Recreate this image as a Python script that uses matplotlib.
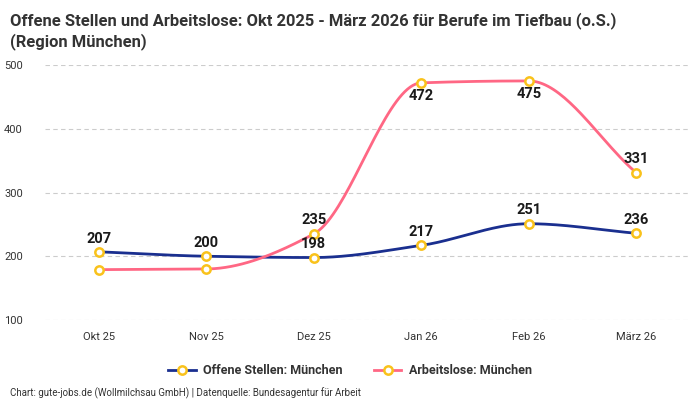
import numpy as np
import matplotlib
matplotlib.use("Agg")
import matplotlib.pyplot as plt
from matplotlib.lines import Line2D

months = ["Okt 25", "Nov 25", "Dez 25", "Jan 26", "Feb 26", "März 26"]
offene = [207, 200, 198, 217, 251, 236]
arbeitslose = [179, 180, 235, 472, 475, 331]
offene_show = [True, True, True, True, True, True]
arbeitslose_show = [False, False, True, True, True, True]
arbeitslose_below = [False, False, False, True, True, False]
yticks = [100, 200, 300, 400, 500]

BLUE = "#1a2f8f"
PINK = "#ff6784"
YELLOW = "#f9c21b"

plt.rcParams['font.family'] = ['Roboto', 'DejaVu Sans']


def monotone(x, y, n=40):
    x = np.asarray(x, float); y = np.asarray(y, float)
    h = np.diff(x); d = np.diff(y) / h
    m = np.zeros_like(y)
    m[0] = d[0]; m[-1] = d[-1]
    for i in range(1, len(y) - 1):
        if d[i - 1] * d[i] <= 0:
            m[i] = 0
        else:
            w1 = 2 * h[i] + h[i - 1]; w2 = h[i] + 2 * h[i - 1]
            m[i] = (w1 + w2) / (w1 / d[i - 1] + w2 / d[i])
    xs, ys = [], []
    for i in range(len(x) - 1):
        t = np.linspace(0, 1, n)
        h00 = 2*t**3 - 3*t**2 + 1; h10 = t**3 - 2*t**2 + t
        h01 = -2*t**3 + 3*t**2; h11 = t**3 - t**2
        xs.append(x[i] + t * h[i])
        ys.append(h00*y[i] + h10*h[i]*m[i] + h01*y[i+1] + h11*h[i]*m[i+1])
    return np.concatenate(xs), np.concatenate(ys)


fig = plt.figure(figsize=(7, 4), dpi=100)
ax = fig.add_axes([45/700, 1-320/400, 645/700, (320-65)/400])
x = np.arange(len(months))

for vals, col in [(offene, BLUE), (arbeitslose, PINK)]:
    sx, sy = monotone(x, vals)
    ax.plot(sx, sy, color=col, lw=2, zorder=3, clip_on=False)
    ax.plot(x, vals, 'o', ms=6, mfc='white', mec=YELLOW, mew=1.8, zorder=4, clip_on=False)

for xi, v, s in zip(x, offene, offene_show):
    if s:
        ax.annotate(str(v), (xi, v), xytext=(0, 4.5), textcoords='offset points',
                    ha='center', va='bottom', fontsize=10.5, fontweight='bold', color='#1a1a1a', zorder=6)
for xi, v, s, b in zip(x, arbeitslose, arbeitslose_show, arbeitslose_below):
    if s:
        ax.annotate(str(v), (xi, v), xytext=(0, -4.5 if b else 5), textcoords='offset points',
                    ha='center', va='top' if b else 'bottom', fontsize=10.5, fontweight='bold', color='#1a1a1a', zorder=6)

ax.set_xlim(-0.5, 5.5)
ax.set_ylim(100, 500)
ax.set_yticks(yticks)
ax.set_xticks(x)
ax.set_xticklabels(months)
ax.tick_params(length=0, labelsize=8, colors='#333333')
ax.tick_params(axis='y', pad=16)
ax.tick_params(axis='x', pad=9)
for lab in ax.get_yticklabels():
    lab.set_horizontalalignment('right')
ax.grid(axis='y', color='#cccccc', ls=(0, (4, 3)), lw=0.8)
for sp in ax.spines.values():
    sp.set_visible(False)

fig.text(10/700, 1-12/400, "Offene Stellen und Arbeitslose: Okt 2025 - März 2026 für Berufe im Tiefbau (o.S.)\n(Region München)",
         ha='left', va='top', fontsize=11.9, fontweight='bold', color='#333333', linespacing=1.3)

handles = [Line2D([0], [0], color=BLUE, lw=2, marker='o', ms=6, mfc='white', mec=YELLOW, mew=1.8),
           Line2D([0], [0], color=PINK, lw=2, marker='o', ms=6, mfc='white', mec=YELLOW, mew=1.8)]
leg = fig.legend(handles, ["Offene Stellen: München", "Arbeitslose: München"], loc='center',
                 bbox_to_anchor=(350/700, 1-371/400), ncol=2, frameon=False,
                 prop={'weight': 'bold', 'size': 9},
                 handlelength=2.2, columnspacing=2.5, handletextpad=0.6)
for t in leg.get_texts():
    t.set_color('#333333')

fig.text(10/700, 1-393/400, "Chart: gute-jobs.de (Wollmilchsau GmbH) | Datenquelle: Bundesagentur für Arbeit",
         ha='left', va='center', fontsize=7, color='#333333')

fig.savefig("out.png", dpi=100)
